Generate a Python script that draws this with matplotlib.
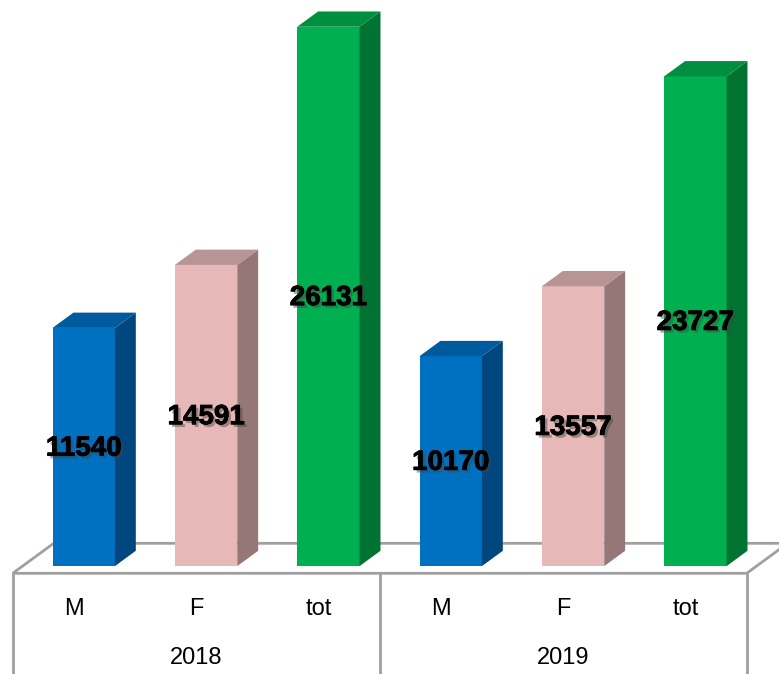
import matplotlib
matplotlib.use("Agg")
import matplotlib.pyplot as plt
import matplotlib.patheffects as pe
from matplotlib.patches import Polygon
import numpy as np

# Data
years      = ["2018", "2019"]
categories = ["M", "F", "tot", "M", "F", "tot"]
values     = [11540, 14591, 26131, 10170, 13557, 23727]

# Colours per series (front, top, side)
front_cols = ["#0070C0", "#E6B9B8", "#00B050"]
top_cols   = ["#005A9E", "#B89494", "#008F3F"]
side_cols  = ["#00467F", "#967777", "#007232"]

# 3D look
DX = 0.335      # x shift of full floor depth (category units)
DY = 1453       # y shift of full floor depth (value units)
d0, d1 = 0.24, 0.75   # bar depth range (fraction of floor depth)
w = 0.51              # bar width
grid_col = "#A0A0A0"

fig = plt.figure(figsize=(7.79, 6.74), dpi=100)
ax = fig.add_axes([0, 0, 1, 1])
ax.set_xlim(-0.604, 5.764)
ax.set_ylim(-4879, 27776)
ax.axis("off")

n = len(values)
# Floor
floor = Polygon([(-0.5, 0), (n - 0.5, 0), (n - 0.5 + DX, DY), (-0.5 + DX, DY)],
                closed=True, facecolor="white", edgecolor=grid_col, lw=2, zorder=1)
ax.add_patch(floor)

# Bars
ddx = (d1 - d0) * DX
ddy = (d1 - d0) * DY
base = d0 * DY
for i, v in enumerate(values):
    c = i % 3
    xc = i + d0 * DX
    x0 = xc - w / 2
    ax.bar(xc, v, width=w, bottom=base, color=front_cols[c], zorder=3)
    side = Polygon([(x0 + w, base), (x0 + w + ddx, base + ddy),
                    (x0 + w + ddx, base + ddy + v), (x0 + w, base + v)],
                   closed=True, facecolor=side_cols[c], edgecolor="none", zorder=3)
    top = Polygon([(x0, base + v), (x0 + w, base + v),
                   (x0 + w + ddx, base + v + ddy), (x0 + ddx, base + v + ddy)],
                  closed=True, facecolor=top_cols[c], edgecolor="none", zorder=3)
    ax.add_patch(side)
    ax.add_patch(top)
    ax.text(xc, base + v / 2 - 80, str(v), ha="center", va="center",
            fontsize=20, fontweight="bold", family="Liberation Sans", color="black",
            zorder=5,
            path_effects=[pe.withSimplePatchShadow(offset=(2, -2), shadow_rgbFace="#444444", alpha=0.45),
                          pe.Stroke(linewidth=0.6, foreground="black"), pe.Normal()])

# Table under the floor
bottom = ax.get_ylim()[0]
for xv in [-0.5, 2.5, 5.5]:
    ax.plot([xv, xv], [0, bottom], color=grid_col, lw=2, zorder=2)

trans = ax.get_xaxis_transform()
for i, lab in enumerate(categories):
    ax.text(i, 0.0964, lab, transform=trans, ha="center", va="center",
            fontsize=17, family="Liberation Sans")
for j, yr in enumerate(years):
    ax.text(3 * j + 1, 0.0237, yr, transform=trans, ha="center", va="center",
            fontsize=17, family="Liberation Sans")

fig.savefig("out.png", dpi=100)
